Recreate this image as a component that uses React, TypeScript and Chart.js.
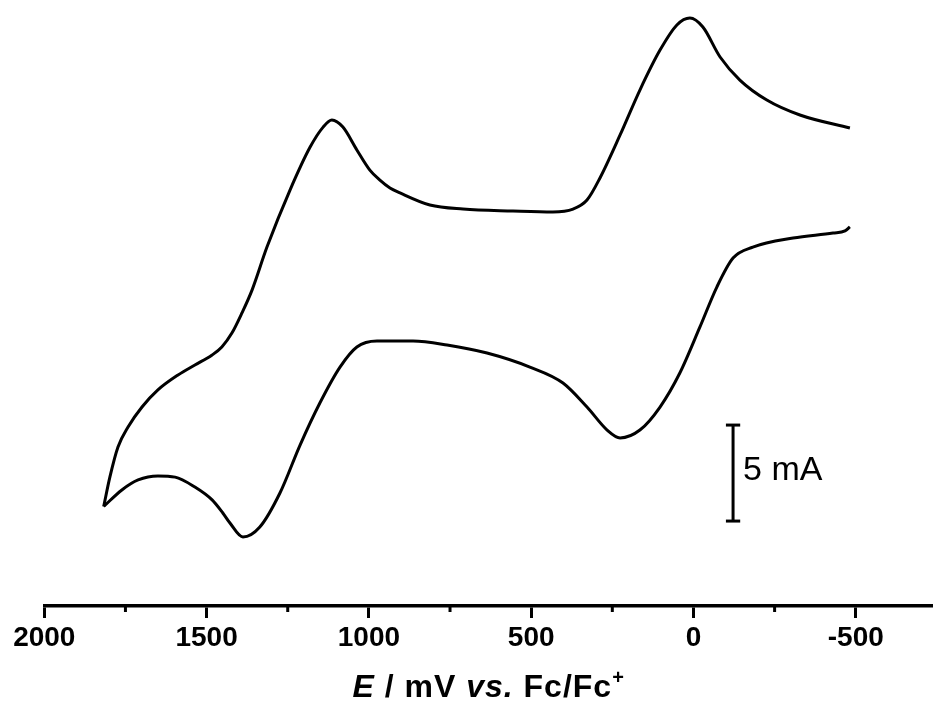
import React, { useEffect, useRef } from "react";
import { Chart, registerables } from "chart.js";

Chart.register(...registerables);

// Potential E (mV vs. Fc/Fc+) and current I (mA) — upper (anodic) branch
const UPPER_E = [1817, 1798, 1773, 1742, 1699, 1650, 1588, 1536, 1483, 1453, 1422, 1391, 1360, 1314, 1243, 1181, 1141, 1114, 1080, 1037, 997, 966, 935, 904, 812, 710, 556, 433, 371, 328, 288, 226, 165, 103, 51, 11, -29, -82, -143, -226, -328, -482];
const UPPER_I = [5.08, 6.61, 8.18, 9.22, 10.26, 11.15, 11.93, 12.45, 12.97, 13.39, 14.11, 15.16, 16.35, 18.59, 21.56, 23.8, 24.84, 25.21, 24.84, 23.65, 22.6, 22.08, 21.67, 21.41, 20.78, 20.57, 20.47, 20.42, 20.57, 21.04, 22.19, 24.43, 26.77, 28.85, 30.16, 30.52, 30.05, 28.49, 27.29, 26.25, 25.47, 24.79];

// Lower (cathodic) branch
const LOWER_E = [1817, 1761, 1711, 1650, 1597, 1536, 1483, 1450, 1428, 1388, 1336, 1274, 1212, 1151, 1089, 1037, 975, 864, 759, 636, 504, 402, 328, 266, 226, 165, 103, 42, -20, -72, -122, -183, -307, -430, -467, -482];
const LOWER_I = [5.08, 5.94, 6.46, 6.67, 6.61, 6.09, 5.42, 4.74, 4.22, 3.49, 4.01, 5.78, 8.28, 10.47, 12.34, 13.39, 13.7, 13.7, 13.49, 13.07, 12.34, 11.51, 10.26, 9.06, 8.65, 9.06, 10.26, 12.03, 14.43, 16.51, 18.02, 18.59, 19.06, 19.32, 19.43, 19.64];

// Axis
const X_MIN = -738;
const X_MAX = 2000;
const Y_MIN = -0.104;
const Y_MAX = 31.46;
const MAJOR_TICKS = [2000, 1500, 1000, 500, 0, -500];
const MINOR_TICKS = [1750, 1250, 750, 250, -250];

// Scale bar (5 mA)
const SCALE_BAR_E = -122;
const SCALE_BAR_BOTTOM = 4.32;
const SCALE_BAR_SPAN = 5;
const SCALE_BAR_CAP = 22;
const SCALE_BAR_LABEL = "5 mA";

const FONT = "'Liberation Sans', Arial, Helvetica, sans-serif";

const pts = (xs: number[], ys: number[]) => xs.map((x, i) => ({ x, y: ys[i] }));

const overlay = {
  id: "overlay",
  afterDraw(chart: any) {
    const { ctx, chartArea, scales } = chart;
    const x = scales.x;
    const y = scales.y;
    ctx.save();
    // minor ticks
    ctx.strokeStyle = "#000";
    ctx.lineWidth = 3;
    for (const v of MINOR_TICKS) {
      const px = x.getPixelForValue(v);
      ctx.beginPath();
      ctx.moveTo(px, chartArea.bottom);
      ctx.lineTo(px, chartArea.bottom + 6);
      ctx.stroke();
    }
    // scale bar label
    const bx = x.getPixelForValue(SCALE_BAR_E);
    const by = (y.getPixelForValue(SCALE_BAR_BOTTOM) + y.getPixelForValue(SCALE_BAR_BOTTOM + SCALE_BAR_SPAN)) / 2;
    ctx.fillStyle = "#000";
    ctx.font = `34px ${FONT}`;
    ctx.textBaseline = "middle";
    ctx.textAlign = "left";
    ctx.fillText(SCALE_BAR_LABEL, bx + 10, by - 2);

    // axis title: E / mV vs. Fc/Fc+
    const size = 32;
    const parts: [string, string][] = [
      ["E", `italic bold ${size}px ${FONT}`],
      [" / mV ", `bold ${size}px ${FONT}`],
      ["vs.", `italic bold ${size}px ${FONT}`],
      [" Fc/Fc", `bold ${size}px ${FONT}`],
    ];
    const supFont = `bold ${Math.round(size * 0.62)}px ${FONT}`;
    (ctx as any).letterSpacing = "1px";
    let total = 0;
    for (const [t, f] of parts) {
      ctx.font = f;
      total += ctx.measureText(t).width;
    }
    ctx.font = supFont;
    total += ctx.measureText("+").width;
    let cx = (chartArea.left + chartArea.right) / 2 - total / 2;
    const baseY = 697;
    ctx.textBaseline = "alphabetic";
    for (const [t, f] of parts) {
      ctx.font = f;
      ctx.fillText(t, cx, baseY);
      cx += ctx.measureText(t).width;
    }
    ctx.font = supFont;
    ctx.fillText("+", cx, baseY - 13);
    ctx.restore();
  },
};

export default function App() {
  const ref = useRef<HTMLCanvasElement | null>(null);

  useEffect(() => {
    if (!ref.current) return;
    const line = (data: any[], smooth = true) => ({
      data,
      borderColor: "#000",
      borderWidth: 3,
      pointRadius: 0,
      fill: false,
      tension: smooth ? 0.4 : 0,
      cubicInterpolationMode: smooth ? ("monotone" as const) : ("default" as const),
      borderJoinStyle: "round" as const,
      clip: false as any,
    });
    const chart = new Chart(ref.current, {
      type: "line",
      data: {
        datasets: [
          line(pts(UPPER_E, UPPER_I)),
          line(pts(LOWER_E, LOWER_I)),
          line(
            [
              { x: SCALE_BAR_E, y: SCALE_BAR_BOTTOM },
              { x: SCALE_BAR_E, y: SCALE_BAR_BOTTOM + SCALE_BAR_SPAN },
            ],
            false
          ),
          line(
            [
              { x: SCALE_BAR_E + SCALE_BAR_CAP, y: SCALE_BAR_BOTTOM + SCALE_BAR_SPAN },
              { x: SCALE_BAR_E - SCALE_BAR_CAP, y: SCALE_BAR_BOTTOM + SCALE_BAR_SPAN },
            ],
            false
          ),
          line(
            [
              { x: SCALE_BAR_E + SCALE_BAR_CAP, y: SCALE_BAR_BOTTOM },
              { x: SCALE_BAR_E - SCALE_BAR_CAP, y: SCALE_BAR_BOTTOM },
            ],
            false
          ),
        ],
      },
      options: {
        animation: false,
        responsive: false,
        devicePixelRatio: 1,
        layout: { padding: { left: 44.3, right: 0, top: 0, bottom: 55.4 } },
        plugins: { legend: { display: false }, tooltip: { enabled: false } },
        scales: {
          x: {
            type: "linear",
            reverse: true,
            min: X_MIN,
            max: X_MAX,
            afterBuildTicks: (scale: any) => {
              scale.ticks = MAJOR_TICKS.map((v) => ({ value: v }));
            },
            border: { display: true, color: "#000", width: 3.5 },
            grid: {
              drawOnChartArea: false,
              drawTicks: true,
              tickLength: 12,
              tickWidth: 3,
              tickColor: "#000",
            },
            ticks: {
              autoSkip: false,
              maxRotation: 0,
              padding: 3,
              color: "#000",
              font: { family: FONT, size: 28, weight: "bold" },
              callback: (v: any) => String(v),
            },
          },
          y: {
            type: "linear",
            display: false,
            min: Y_MIN,
            max: Y_MAX,
          },
        },
      },
      plugins: [overlay],
    });
    return () => chart.destroy();
  }, []);

  return (
    <canvas
      ref={ref}
      width={933}
      height={713}
      style={{ position: "absolute", left: 0, top: 0, width: 933, height: 713, background: "#fff" }}
    />
  );
}
